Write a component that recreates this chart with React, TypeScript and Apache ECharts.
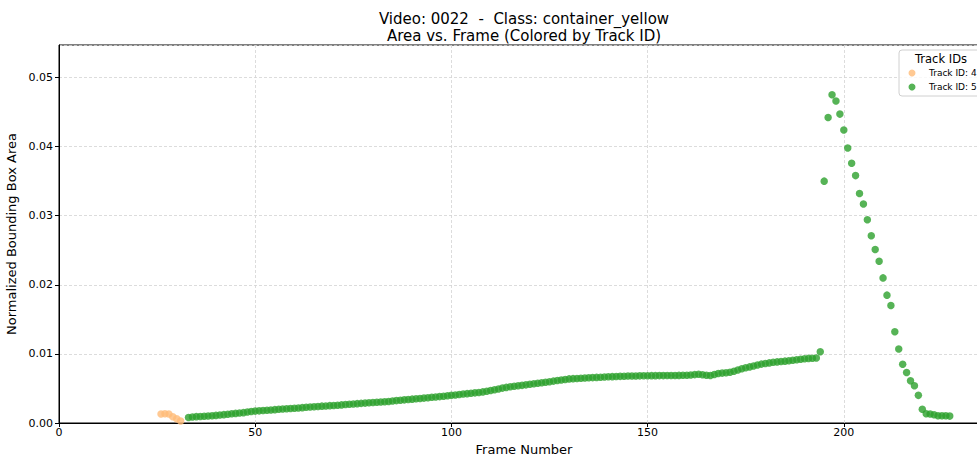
import React, { useEffect, useRef } from "react";
import * as echarts from "echarts";

// Track 4: short-lived detection at the start of the clip
const track4Frames = [26, 27, 28, 29, 30, 31];
const track4Area = [0.0013, 0.00135, 0.0013, 0.0009, 0.0006, 0.0003];

// Track 5: consecutive frames starting at frame 33
const track5StartFrame = 33;
const track5Area = [
  0.0008, 0.00088, 0.00092, 0.00095, 0.00098, 0.00101, 0.00105, 0.0011, 0.00116, 0.00121,
  0.00127, 0.00133, 0.00139, 0.00144, 0.0015, 0.00158, 0.00166, 0.00172, 0.00176, 0.0018,
  0.00184, 0.00189, 0.00193, 0.00198, 0.00203, 0.00206, 0.0021, 0.00214, 0.00218, 0.00222,
  0.00227, 0.00231, 0.00236, 0.0024, 0.00244, 0.00247, 0.00251, 0.00254, 0.00258, 0.00262,
  0.00267, 0.00271, 0.00276, 0.0028, 0.00284, 0.00288, 0.00292, 0.00296, 0.003, 0.00303,
  0.00307, 0.00312, 0.00318, 0.00324, 0.0033, 0.00335, 0.0034, 0.00345, 0.0035, 0.00354,
  0.0036, 0.00366, 0.00372, 0.00377, 0.00382, 0.00388, 0.00394, 0.004, 0.00406, 0.00413,
  0.0042, 0.00425, 0.0043, 0.00436, 0.00442, 0.0045, 0.0046, 0.0047, 0.0048, 0.00492,
  0.00505, 0.00515, 0.00525, 0.00532, 0.00538, 0.00545, 0.00552, 0.0056, 0.00568, 0.00575,
  0.00582, 0.0059, 0.00598, 0.00606, 0.00614, 0.00622, 0.0063, 0.00638, 0.00642, 0.00645,
  0.00648, 0.00651, 0.00654, 0.00657, 0.0066, 0.00663, 0.00666, 0.00669, 0.00671, 0.00673,
  0.00675, 0.00677, 0.00679, 0.0068, 0.00681, 0.00682, 0.00683, 0.00684, 0.00685, 0.00685,
  0.00686, 0.00686, 0.00687, 0.00687, 0.00688, 0.00689, 0.0069, 0.00692, 0.00695, 0.007,
  0.00706, 0.00698, 0.0069, 0.00688, 0.00702, 0.00716, 0.00722, 0.00726, 0.00735, 0.00748,
  0.00768, 0.00785, 0.008, 0.00812, 0.00825, 0.0084, 0.00852, 0.00862, 0.0087, 0.00878,
  0.00884, 0.00889, 0.00895, 0.009, 0.00908, 0.00915, 0.00922, 0.0093, 0.00935, 0.00938,
  0.00941, 0.0103,
  // frames 195 – 227
  0.035, 0.0442, 0.0475, 0.0466, 0.0447, 0.0424, 0.0398, 0.0376, 0.0358, 0.0332,
  0.0317, 0.0294, 0.0271, 0.0251, 0.0234, 0.021, 0.0185, 0.017, 0.0132, 0.0107,
  0.0085, 0.0073, 0.0061, 0.0054, 0.004, 0.002, 0.00135, 0.0013, 0.0012, 0.00106,
  0.00106, 0.00106, 0.001,
];

const xTicks = [0, 50, 100, 150, 200];
const yTicks = [0, 0.01, 0.02, 0.03, 0.04, 0.05];

const legendLabels = ["Track ID: 4", "Track ID: 5"];
const trackColors = ["#ffbb78", "#2ca02c"];

const FONT = "DejaVu Sans";
const CHART_W = 1010;
const CHART_H = 456;
const PLOT_LEFT = 59;
const PLOT_RIGHT_EDGE = 989;
const PLOT_TOP = 45;
const PLOT_BOTTOM_EDGE = 423;

export default function App() {
  const ref = useRef<HTMLDivElement>(null);

  useEffect(() => {
    if (!ref.current) return;
    const chart = echarts.init(ref.current, null, { renderer: "svg" });

    const track4Data = track4Frames.map((f, i) => [f, track4Area[i]]);
    const track5Data = track5Area.map((v, i) => [track5StartFrame + i, v]);

    const legendX = 899;
    const legendY = 50;

    chart.setOption({
      animation: false,
      backgroundColor: "#ffffff",
      textStyle: { fontFamily: FONT },
      grid: {
        left: PLOT_LEFT,
        right: CHART_W - PLOT_RIGHT_EDGE,
        top: PLOT_TOP,
        bottom: CHART_H - PLOT_BOTTOM_EDGE,
        containLabel: false,
        outerBoundsMode: "none",
        show: true,
        borderColor: "#000000",
        borderWidth: 1,
        backgroundColor: "transparent",
      },
      xAxis: {
        type: "value",
        min: 0,
        max: 237,
        interval: 50,
        name: "Frame Number",
        nameLocation: "middle",
        nameGap: 19,
        nameTextStyle: { fontFamily: FONT, fontSize: 13, color: "#000" },
        axisLine: { show: true, lineStyle: { color: "#000", width: 1 } },
        axisTick: { show: true, length: 4, lineStyle: { color: "#000" } },
        axisLabel: {
          fontFamily: FONT,
          fontSize: 11,
          color: "#000",
          margin: 4,
          showMaxLabel: false,
          formatter: (v: number) => (xTicks.includes(v) ? String(v) : ""),
        },
        splitLine: { show: true, lineStyle: { color: "#d3d3d3", type: [3, 2], width: 0.8 } },
      },
      yAxis: {
        type: "value",
        min: 0,
        max: 0.0547,
        interval: 0.01,
        name: "Normalized Bounding Box Area",
        nameLocation: "middle",
        nameGap: 34,
        nameTextStyle: { fontFamily: FONT, fontSize: 13, color: "#000" },
        axisLine: { show: true, lineStyle: { color: "#000", width: 1 } },
        axisTick: { show: true, length: 4, lineStyle: { color: "#000" } },
        axisLabel: {
          fontFamily: FONT,
          fontSize: 11,
          color: "#000",
          margin: 6,
          showMaxLabel: false,
          formatter: (v: number) =>
            yTicks.some((t) => Math.abs(t - v) < 1e-9) ? v.toFixed(2) : "",
        },
        splitLine: { show: true, lineStyle: { color: "#d3d3d3", type: [3, 2], width: 0.8 } },
      },
      series: [
        {
          name: legendLabels[0],
          type: "scatter",
          data: track4Data,
          symbolSize: 7.5,
          itemStyle: { color: trackColors[0], opacity: 0.8 },
        },
        {
          name: legendLabels[1],
          type: "scatter",
          data: track5Data,
          symbolSize: 7.5,
          itemStyle: { color: trackColors[1], opacity: 0.8 },
        },
      ],
      graphic: [
        {
          type: "text",
          x: 524,
          y: 11,
          style: {
            text: "Video: 0022  -  Class: container_yellow",
            font: `15px '${FONT}'`,
            fill: "#000",
            textAlign: "center",
          },
        },
        {
          type: "text",
          x: 524,
          y: 28,
          style: {
            text: "Area vs. Frame (Colored by Track ID)",
            font: `15px '${FONT}'`,
            fill: "#000",
            textAlign: "center",
          },
        },
        {
          type: "rect",
          shape: { x: legendX, y: legendY, width: 86, height: 46, r: 3 },
          style: { fill: "rgba(255,255,255,0.8)", stroke: "#d0d0d0", lineWidth: 1 },
          z: 100,
        },
        {
          type: "text",
          x: legendX + 42,
          y: legendY + 3,
          z: 101,
          style: {
            text: "Track IDs",
            font: `11.5px '${FONT}'`,
            fill: "#000",
            textAlign: "center",
          },
        },
        ...legendLabels.flatMap((label, i) => [
          {
            type: "circle",
            z: 101,
            shape: { cx: legendX + 13, cy: legendY + 23 + i * 14, r: 3.5 },
            style: { fill: trackColors[i], opacity: 0.8 },
          },
          {
            type: "text",
            z: 101,
            x: legendX + 30,
            y: legendY + 23 + i * 14,
            style: {
              text: label,
              font: `9px '${FONT}'`,
              fill: "#000",
              textVerticalAlign: "middle",
              verticalAlign: "middle",
            },
          },
        ]),
      ],
    });

    return () => chart.dispose();
  }, []);

  return (
    <div
      style={{
        position: "fixed",
        left: 0,
        top: 0,
        width: 977,
        height: 456,
        overflow: "hidden",
        background: "#fff",
      }}
    >
      <div ref={ref} style={{ width: CHART_W, height: CHART_H }} />
    </div>
  );
}
